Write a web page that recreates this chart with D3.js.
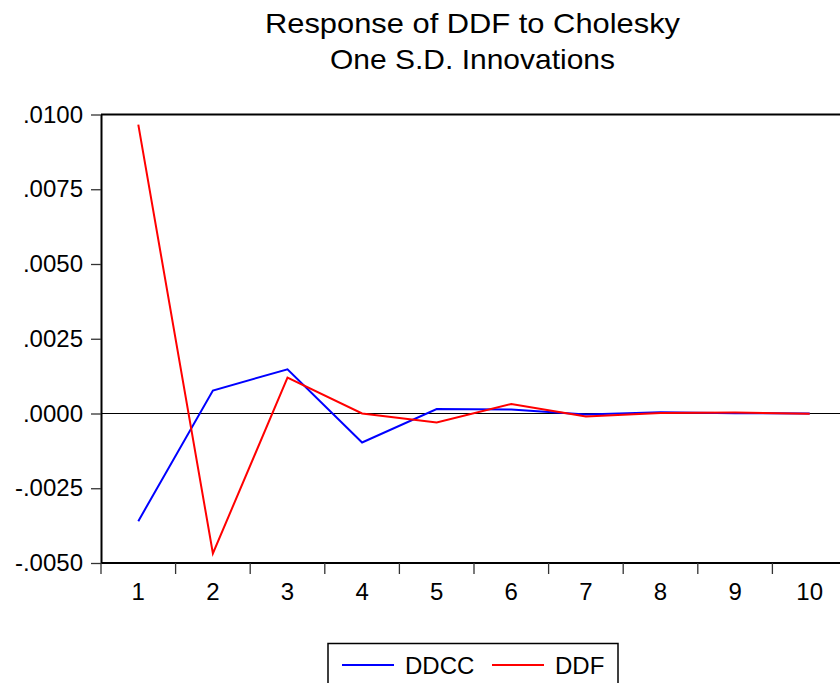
<!DOCTYPE html>
<html>
<head>
<meta charset="utf-8">
<script src="https://cdn.jsdelivr.net/npm/d3@7"></script>
<style>
  html, body { margin: 0; padding: 0; background: #fff; }
  svg { display: block; font-family: "Liberation Sans", Arial, sans-serif; }
</style>
</head>
<body>
<svg id="chart" width="840" height="683"></svg>
<script>
// Impulse responses over 10 periods
const periods = [1, 2, 3, 4, 5, 6, 7, 8, 9, 10];
const ddcc = [-0.00360, 0.00077, 0.00148, -0.00097, 0.00015, 0.00013, -0.00003, 0.00004, 0.00001, 0.00000];
const ddf  = [0.00966, -0.00468, 0.00120, 0.00000, -0.00030, 0.00032, -0.00010, 0.00002, 0.00003, -0.00001];
const yTicks = [-0.005, -0.0025, 0, 0.0025, 0.005, 0.0075, 0.01];
const seriesNames = ["DDCC", "DDF"];
const seriesColors = ["#0000ff", "#ff0000"];
const titleLines = ["Response of DDF to Cholesky", "One S.D. Innovations"];

(function () {
const svg = d3.select("#chart");
const pLeft = 101, pRight = 847, pTop = 114.5, pBottom = 563;

const x = d3.scaleBand().domain(periods).range([pLeft, pRight]);
const y = d3.scaleLinear().domain([-0.005, 0.01]).range([pBottom, pTop]);

// Title (two lines, slightly widened lettering)
const titleSpec = [{y: 33.3, len: 415}, {y: 69, len: 285}];
titleLines.forEach((t, i) => {
  svg.append("text").attr("x", 472.5).attr("y", titleSpec[i].y).attr("text-anchor", "middle")
    .attr("font-size", 28).attr("textLength", titleSpec[i].len)
    .attr("lengthAdjust", "spacingAndGlyphs").text(t);
});

// Zero reference line
svg.append("line").attr("x1", pLeft).attr("x2", pRight)
  .attr("y1", y(0)).attr("y2", y(0))
  .attr("stroke", "#000").attr("stroke-width", 1.2);

// Y axis
const fmt = v => {
  const s = d3.format(".4f")(Math.abs(v)).replace(/^0/, "");
  return (v < 0 ? "-" : "") + s;
};
const yAxis = svg.append("g").attr("transform", `translate(${pLeft},0)`)
  .call(d3.axisLeft(y).tickValues(yTicks).tickFormat(fmt).tickSize(10).tickSizeOuter(0).tickPadding(8));
yAxis.select(".domain").attr("stroke-width", 2);
yAxis.selectAll(".tick line").attr("stroke", "#333").attr("stroke-width", 1.3);
yAxis.selectAll("text").attr("font-size", 24).attr("fill", "#000")
  .attr("font-family", "Liberation Sans, Arial, sans-serif");

// X axis: category labels centred, tick marks at band boundaries
const xAxis = svg.append("g").attr("transform", `translate(0,${pBottom})`);
xAxis.append("line").attr("x1", pLeft).attr("x2", pRight).attr("y1", 0).attr("y2", 0)
  .attr("stroke", "#000").attr("stroke-width", 2);
xAxis.selectAll("line.tk").data(periods).enter().append("line").attr("class", "tk")
  .attr("x1", d => x(d)).attr("x2", d => x(d)).attr("y1", 0).attr("y2", 11)
  .attr("stroke", "#333").attr("stroke-width", 1.3);
xAxis.selectAll("text").data(periods).enter().append("text")
  .attr("x", d => x(d) + x.bandwidth() / 2).attr("y", 37)
  .attr("text-anchor", "middle").attr("font-size", 24).text(d => d);

// Top frame
svg.append("line").attr("x1", pLeft).attr("x2", pRight).attr("y1", pTop).attr("y2", pTop)
  .attr("stroke", "#000").attr("stroke-width", 2);

// Series lines
const line = d3.line().x((d, i) => x(periods[i]) + x.bandwidth() / 2).y(d => y(d));
[ddcc, ddf].forEach((vals, k) => {
  svg.append("path").datum(vals).attr("d", line)
    .attr("fill", "none").attr("stroke", seriesColors[k]).attr("stroke-width", 2);
});

// Legend
const lg = svg.append("g");
lg.append("rect").attr("x", 328).attr("y", 643.5).attr("width", 290).attr("height", 50)
  .attr("fill", "#fff").attr("stroke", "#000").attr("stroke-width", 1.5);
const legendItems = [{x: 342, tx: 405}, {x: 492, tx: 555}];
seriesNames.forEach((name, k) => {
  lg.append("line").attr("x1", legendItems[k].x).attr("x2", legendItems[k].x + 52)
    .attr("y1", 665).attr("y2", 665).attr("stroke", seriesColors[k]).attr("stroke-width", 2);
  lg.append("text").attr("x", legendItems[k].tx).attr("y", 673.5)
    .attr("font-size", 24).text(name);
});
})();
</script>
</body>
</html>
